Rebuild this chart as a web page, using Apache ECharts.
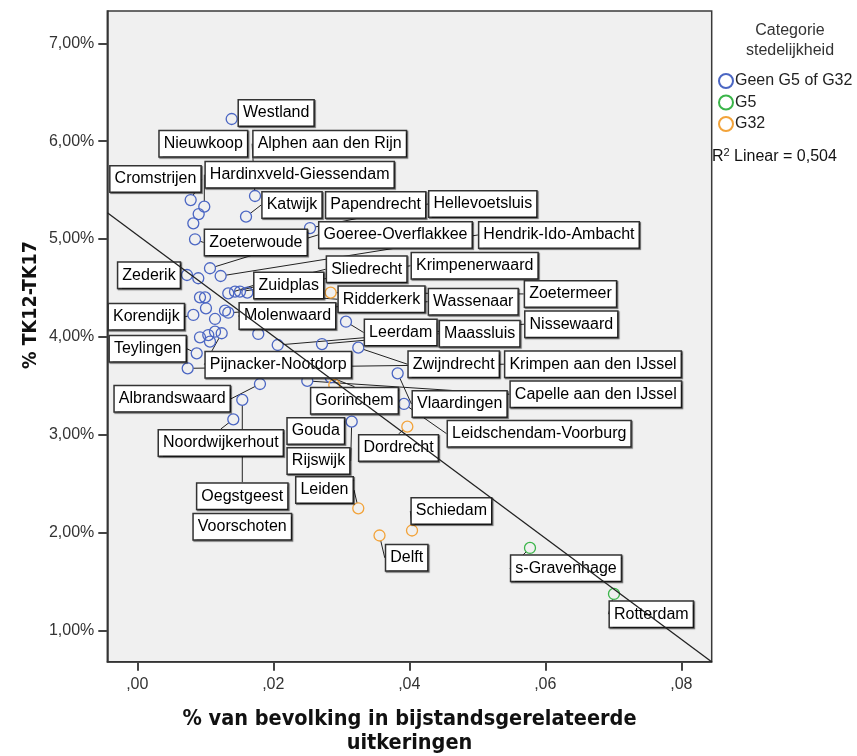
<!DOCTYPE html>
<html>
<head>
<meta charset="utf-8">
<script src="https://cdn.jsdelivr.net/npm/echarts@6/dist/echarts.min.js"></script>
<style>
  html, body { margin: 0; background: #fff; }
  #chart { width: 857px; height: 756px; }
</style>
</head>
<body>
<div id="chart"></div>
<script>
// gemeenten zonder G5/G32 status ('' = punt zonder label)
var geenNames = ['Westland', 'Cromstrijen', 'Hardinxveld-Giessendam', '', 'Nieuwkoop', 'Zoeterwoude',
  'Alphen aan den Rijn', 'Katwijk', 'Hellevoetsluis', 'Goeree-Overflakkee', 'Hendrik-Ido-Ambacht', 'Zederik',
  'Papendrecht', '', '', '', 'Korendijk', '', '', 'Wassenaar', 'Zuidplas', 'Sliedrecht', 'Krimpenerwaard',
  'Ridderkerk', 'Voorschoten', '', '', 'Pijnacker-Nootdorp', '', 'Teylingen', 'Krimpen aan den IJssel',
  'Molenwaard', 'Nissewaard', 'Maassluis', 'Zwijndrecht', 'Leerdam', 'Vlaardingen', 'Capelle aan den IJssel',
  'Gorinchem', 'Albrandswaard', 'Oegstgeest', 'Noordwijkerhout', 'Leidschendam-Voorburg', 'Rijswijk'];
var geenX = [0.01388, 0.00785, 0.00985, 0.00903, 0.00824, 0.00849,
  0.01731, 0.01599, 0.0254, 0.01069, 0.01226, 0.00731,
  0.00897, 0.00922, 0.00996, 0.0101, 0.00824, 0.01143, 0.0129, 0.01338, 0.01338, 0.01437, 0.0151,
  0.01618, 0.00922, 0.01044, 0.01143, 0.01241, 0.01069, 0.00874, 0.00741,
  0.01779, 0.02065, 0.02716, 0.0325, 0.03069, 0.03829, 0.025,
  0.02844, 0.01804, 0.01544, 0.01412, 0.03922, 0.03153];
var geenY = [6.227, 5.399, 5.331, 5.256, 5.161, 4.998,
  5.440, 5.229, 5.113, 4.702, 4.623, 4.633,
  4.600, 4.405, 4.405, 4.293, 4.225, 4.184, 4.269, 4.248, 4.446, 4.463, 4.463,
  4.453, 3.997, 4.020, 4.054, 4.038, 3.952, 3.833, 3.680,
  4.031, 3.918, 3.928, 3.891, 4.156, 3.629, 3.551,
  3.588, 3.520, 3.357, 3.159, 3.316, 3.135];

var g5Names = ['s-Gravenhage', 'Rotterdam'];
var g5X = [0.05775, 0.0701];
var g5Y = [1.845, 1.375];

var g32Names = ['Zoetermeer', 'Gouda', 'Dordrecht', 'Leiden', 'Schiedam', 'Delft'];
var g32X = [0.02844, 0.02897, 0.03971, 0.0325, 0.0404, 0.03562];
var g32Y = [4.453, 3.510, 3.084, 2.250, 2.023, 1.972];

var fitX = [-0.0044, 0.0845];
var fitY = [5.27, 0.68];

var xTicks = [0, 0.02, 0.04, 0.06, 0.08];
var yTicks = [1, 2, 3, 4, 5, 6, 7];

// verschuiving van de labels t.o.v. het punt (px)
var labelPos = {
  'Westland': [44.5, -6], 'Nieuwkoop': [10, -79.6], 'Alphen aan den Rijn': [74.7, -52.3],
  'Hardinxveld-Giessendam': [95.4, -32], 'Cromstrijen': [-35.2, -21], 'Katwijk': [46, -11.7],
  'Papendrecht': [177.4, -73.3], 'Hellevoetsluis': [172.8, -24], 'Zoeterwoude': [60.8, 3.2],
  'Goeree-Overflakkee': [185.5, -33.3], 'Hendrik-Ido-Ambacht': [338.3, -41], 'Zederik': [-38, 0.3],
  'Sliedrecht': [131.7, -22.4], 'Krimpenerwaard': [234.7, -25.9], 'Zuidplas': [60.5, -7.8],
  'Ridderkerk': [134.2, 6.6], 'Wassenaar': [245, -11], 'Zoetermeer': [239.8, 1.3],
  'Korendijk': [-47, 1.7], 'Molenwaard': [29.2, -18], 'Leerdam': [54.7, 10.8],
  'Maassluis': [157.7, -10.3], 'Nissewaard': [293.6, -20.8], 'Teylingen': [-49, -4.5],
  'Pijnacker-Nootdorp': [56.6, 31.4], 'Zwijndrecht': [95.4, 16.5], 'Krimpen aan den IJssel': [405.3, -4.1],
  'Capelle aan den IJssel': [288.5, 13.3], 'Albrandswaard': [-87.8, 14.8], 'Gorinchem': [23.8, 23.4],
  'Vlaardingen': [62, 30.7], 'Gouda': [-18.5, 46], 'Leidschendam-Voorburg': [135.2, 29.7],
  'Noordwijkerhout': [-12.5, 23.7], 'Dordrecht': [-8.8, 21.3], 'Rijswijk': [-33.2, 39.3],
  'Leiden': [-33.8, -18.3], 'Oegstgeest': [0, 96.3], 'Voorschoten': [42.3, 189.4],
  'Schiedam': [39.4, -19.5], 'Delft': [27.2, 22.3], 's-Gravenhage': [36, 20.3], 'Rotterdam': [37.3, 20.2]
};
var noLeader = ['Westland', 'Nieuwkoop', 'Papendrecht', 'Voorschoten', 'Gouda'];

var FONT = "'Liberation Sans', Arial, sans-serif";
var TITLEFONT = "'Liberation Sans Narrow', 'DejaVu Sans Condensed', sans-serif";

function scatterSeries(name, color, names, xs, ys) {
  return {
    name: name,
    type: 'scatter',
    symbol: 'circle',
    symbolSize: 11,
    z: 3,
    itemStyle: { color: 'rgba(255,255,255,0)', borderColor: color, borderWidth: 1.3, opacity: 1 },
    emphasis: { disabled: true },
    data: names.map(function (n, i) {
      return {
        name: n,
        value: [xs[i], ys[i]],
        label: { show: n !== '' },
        labelLine: { show: n !== '' && noLeader.indexOf(n) < 0 }
      };
    }),
    label: {
      show: true,
      position: 'inside',
      formatter: '{b}',
      fontFamily: FONT,
      fontSize: 16,
      lineHeight: 18,
      color: '#000',
      opacity: 1,
      backgroundColor: '#fff',
      borderColor: '#333',
      borderWidth: 1.5,
      padding: [4, 4, 3, 4],
      shadowColor: 'rgba(0,0,0,0.55)',
      shadowOffsetX: 1,
      shadowOffsetY: 1,
      shadowBlur: 1
    },
    labelLine: { show: true, lineStyle: { color: '#222', width: 1, opacity: 1 } },
    labelLayout: function (p) {
      var o = labelPos[names[p.dataIndex]];
      if (!o) return {};
      return { dx: o[0], dy: o[1] };
    }
  };
}

var chart = echarts.init(document.getElementById('chart'));
chart.setOption({
  animation: false,
  backgroundColor: '#fff',
  grid: {
    left: 107.3, right: 145.3, top: 11, bottom: 94.3,
    show: true, backgroundColor: '#F0F0F0', borderColor: '#3a3a3a', borderWidth: 1.5,
    outerBoundsMode: 'none'
  },
  xAxis: {
    type: 'value', min: -0.00441, max: 0.08447,
    splitLine: { show: false },
    axisLine: { show: true, onZero: false, lineStyle: { color: '#333', width: 1.5 } },
    axisTick: { show: true, customValues: xTicks, length: 9, lineStyle: { color: '#444', width: 2 } },
    axisLabel: {
      customValues: xTicks, margin: 15, fontFamily: FONT, fontSize: 16, color: '#333',
      formatter: function (v) { return v.toFixed(2).replace(/^0\./, ','); }
    },
    name: '% van bevolking in bijstandsgerelateerde\nuitkeringen',
    nameLocation: 'middle', nameGap: 46,
    nameTextStyle: { fontFamily: TITLEFONT, fontWeight: 'bold', fontSize: 21.5, lineHeight: 24, color: '#111' }
  },
  yAxis: {
    type: 'value', min: 0.683, max: 7.33,
    splitLine: { show: false },
    axisLine: { show: true, onZero: false, lineStyle: { color: '#333', width: 1.5 } },
    axisTick: { show: true, customValues: yTicks, length: 9, lineStyle: { color: '#444', width: 2 } },
    axisLabel: {
      customValues: yTicks, margin: 13, fontFamily: FONT, fontSize: 16, color: '#333',
      formatter: function (v) { return v.toFixed(2).replace('.', ',') + '%'; }
    }
  },
  legend: {
    data: ['Geen G5 of G32', 'G5', 'G32'],
    orient: 'vertical', left: 713, top: 68,
    itemWidth: 14, itemHeight: 14, itemGap: 5.5,
    textStyle: { fontFamily: FONT, fontSize: 16, color: '#222', padding: [0, 0, 0, -3] }
  },
  graphic: [
    {
      type: 'text', x: 31, y: 305, rotation: Math.PI / 2,
      style: {
        text: '% TK12-TK17', textAlign: 'center', textVerticalAlign: 'middle',
        fontFamily: TITLEFONT, fontWeight: 'bold', fontSize: 19.5, fill: '#111'
      }
    },
    {
      type: 'text', x: 790, y: 21,
      style: {
        text: 'Categorie\nstedelijkheid', textAlign: 'center', lineHeight: 20,
        fontFamily: FONT, fontSize: 16, fill: '#333'
      }
    },
    {
      type: 'text', x: 712, y: 147,
      style: {
        text: '{a|R}{s|2}{a| Linear = 0,504}',
        rich: {
          a: { fontFamily: FONT, fontSize: 16, fill: '#111', lineHeight: 20 },
          s: { fontFamily: FONT, fontSize: 11, fill: '#111', lineHeight: 20, padding: [0, 0, 9, 0] }
        }
      }
    }
  ],
  series: [
    scatterSeries('Geen G5 of G32', '#4B66C3', geenNames, geenX, geenY),
    scatterSeries('G5', '#3BB54A', g5Names, g5X, g5Y),
    scatterSeries('G32', '#F2A33A', g32Names, g32X, g32Y),
    {
      name: 'Linear', type: 'line', zlevel: 1, z: 10, silent: true, symbol: 'none',
      lineStyle: { color: '#222', width: 1.3 },
      data: fitX.map(function (x, i) { return [x, fitY[i]]; })
    }
  ]
});
</script>
</body>
</html>
